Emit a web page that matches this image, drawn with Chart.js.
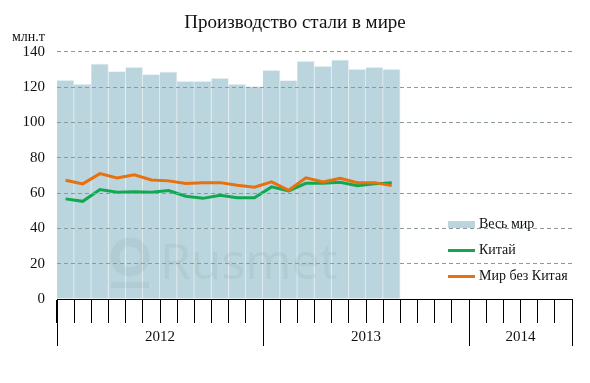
<!DOCTYPE html>
<html>
<head>
<meta charset="utf-8">
<script src="https://cdn.jsdelivr.net/npm/chart.js@4"></script>
<style>
    body { margin: 0; background: #fff; }
    #wrap { position: relative; width: 590px; height: 383px; }
    #unit { position: absolute; left: 12px; top: 29px; font: 14px "Liberation Serif", serif; color: #111; }
    #legend { position: absolute; left: 448px; top: 211px; font: 14px "Liberation Serif", serif; color: #111; }
    .item { height: 26px; display: flex; align-items: center; }
    .mark { width: 27px; margin-right: 4px; }
</style>
</head>
<body>
<div id="wrap">
    <canvas id="chart" width="590" height="383"></canvas>
    <div id="unit">млн.т</div>
    <div id="legend"></div>
</div>
<script>
// months Jan 2012 .. Jun 2014
const years = ["2012", "2013", "2014"];
const monthsPerYear = [12, 12, 6];
const months = [];
years.forEach((y, i) => {
    for (let m = 1; m <= monthsPerYear[i]; m++) months.push(y + "-" + m);
});

const worldTotal = [124, 121.7, 133.2, 129, 131.3, 127.3, 128.7, 123.4, 123.4, 125.1, 121.7, 120.5,
    129.6, 123.9, 134.7, 131.9, 135.5, 130.2, 131.3, 130.2];
const china = [56.7, 55.3, 62.0, 60.4, 60.8, 60.4, 61.4, 58.2, 57.0, 58.7, 57.3, 57.3,
    63.5, 61.2, 65.5, 65.5, 66.1, 64.2, 65.2, 65.8];
const worldExChina = [67.2, 65.2, 71.0, 68.6, 70.3, 67.4, 66.9, 65.4, 65.8, 65.9, 64.4, 63.3,
    66.3, 61.6, 68.6, 66.3, 68.4, 65.8, 65.9, 64.2];

const barColor = "#bad5dd";
const greenColor = "#12a851";
const orangeColor = "#e8700f";
const serif = "'Liberation Serif', serif";

// long ticks at year boundaries, year labels, watermark
const extras = {
    id: "extras",
    afterDatasetsDraw(chart) {
        const ctx = chart.ctx;
        ctx.save();
        ctx.fillStyle = "rgba(110,130,140,0.10)";
        ctx.strokeStyle = "rgba(110,130,140,0.10)";
        ctx.lineWidth = 9;
        ctx.beginPath();
        ctx.arc(130, 257, 15, 0, Math.PI * 2);
        ctx.stroke();
        ctx.fillRect(111, 282, 38, 6);
        ctx.font = "50px 'Open Sans', sans-serif";
        ctx.textBaseline = "alphabetic";
        ctx.fillText("Rusmet", 160, 279);
        ctx.restore();
    },
    afterDraw(chart) {
        const ctx = chart.ctx;
        const x = chart.scales.x;
        const bottom = chart.chartArea.bottom;
        ctx.save();
        ctx.strokeStyle = "#000";
        ctx.lineWidth = 1;
        ctx.fillStyle = "#111";
        ctx.font = "15px " + serif;
        ctx.textAlign = "center";
        ctx.textBaseline = "middle";
        let start = 0;
        const edges = [0];
        monthsPerYear.forEach(n => { start += n; edges.push(start); });
        edges.forEach(k => {
            const px = Math.round(x.getPixelForValue(k - 0.5)) + 0.5;
            ctx.beginPath();
            ctx.moveTo(px, bottom);
            ctx.lineTo(px, bottom + 47);
            ctx.stroke();
        });
        years.forEach((y, i) => {
            const a = x.getPixelForValue(edges[i] - 0.5);
            const b = x.getPixelForValue(edges[i + 1] - 0.5);
            ctx.fillText(y, (a + b) / 2, bottom + 38);
        });
        ctx.restore();
    }
};

const chart = new Chart(document.getElementById("chart"), {
    type: "bar",
    data: {
        labels: months,
        datasets: [
            {
                type: "line",
                label: "Китай",
                data: china,
                borderColor: greenColor,
                borderWidth: 3,
                pointRadius: 0,
                tension: 0,
                order: 1
            },
            {
                type: "line",
                label: "Мир без Китая",
                data: worldExChina,
                borderColor: orangeColor,
                borderWidth: 3,
                pointRadius: 0,
                tension: 0,
                order: 0
            },
            {
                label: "Весь мир",
                data: worldTotal,
                backgroundColor: barColor,
                borderColor: "#eef4f6",
                borderWidth: { top: 1, right: 1, left: 0, bottom: 0 },
                barPercentage: 1,
                categoryPercentage: 1,
                order: 2
            }
        ]
    },
    options: {
        responsive: false,
        animation: false,
        layout: { padding: { left: 0, right: 0, top: 0, bottom: 60 } },
        plugins: {
            legend: { display: false },
            tooltip: { enabled: false },
            title: {
                display: true,
                text: "Производство стали в мире",
                color: "#111",
                font: { family: serif, size: 19, weight: "normal" },
                padding: { top: 12, bottom: 17 }
            }
        },
        scales: {
            x: {
                offset: true,
                ticks: { display: false },
                grid: {
                    offset: true,
                    drawOnChartArea: false,
                    drawTicks: true,
                    tickLength: 24,
                    color: "#000"
                },
                border: { color: "#000", width: 1 }
            },
            y: {
                min: 0,
                max: 140,
                afterFit: s => { s.width = 57; },
                ticks: {
                    stepSize: 20,
                    padding: 12,
                    color: "#111",
                    font: { family: serif, size: 15 }
                },
                grid: {
                    z: 1,
                    drawTicks: false,
                    color: ctx => ctx.tick && ctx.tick.value === 0 ? "rgba(0,0,0,0)" : "#8d9a9c"
                },
                border: { display: false, dash: [4, 3] }
            },
            // empty right-hand axis, only keeps the right margin
            yRight: {
                position: "right",
                min: 0,
                max: 140,
                afterFit: s => { s.width = 18; },
                ticks: { display: false },
                grid: { display: false },
                border: { display: false }
            }
        }
    },
    plugins: [extras]
});

// legend from the datasets
const legend = document.getElementById("legend");
[2, 0, 1].forEach(i => {
    const ds = chart.data.datasets[i];
    const item = document.createElement("div");
    item.className = "item";
    const mark = document.createElement("div");
    mark.className = "mark";
    if (ds.type === "line") {
        mark.style.height = "3px";
        mark.style.background = ds.borderColor;
    } else {
        mark.style.height = "7px";
        mark.style.background = ds.backgroundColor;
    }
    item.appendChild(mark);
    item.appendChild(document.createTextNode(ds.label));
    legend.appendChild(item);
});
</script>
</body>
</html>
